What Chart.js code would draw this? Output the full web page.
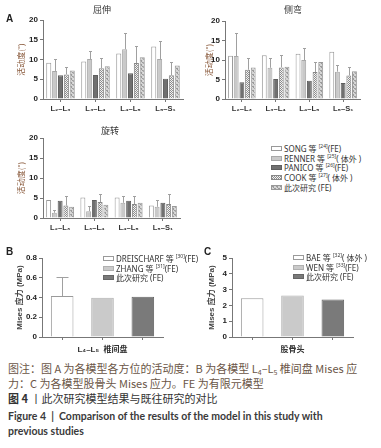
<!DOCTYPE html>
<html>
<head>
<meta charset="utf-8">
<script src="https://cdn.jsdelivr.net/npm/chart.js@4/dist/chart.umd.min.js"></script>
<style>
body{margin:0;background:#fff;width:381px;height:448px;position:relative;overflow:hidden;font-family:"Noto Sans","Noto Sans CJK SC",sans-serif;}
canvas{position:absolute;}
.t{position:absolute;white-space:nowrap;}
.ttl{font-size:9px;color:#333;transform:translate(-50%,-50%);font-family:"Noto Sans CJK SC";}
.pl{font-size:10px;font-weight:bold;color:#222;font-family:"Liberation Sans";}
.lg{position:absolute;font-size:8px;color:#333;line-height:9.7px;font-family:"Noto Sans","Noto Sans CJK SC";}
.lg div{white-space:nowrap;height:9.7px;}
.lg i{display:inline-block;width:9px;height:3px;border:1px solid #999;margin-right:2px;vertical-align:1px;}
.lg sup{font-size:5px;vertical-align:4px;line-height:0;}
.cap{position:absolute;left:8px;white-space:nowrap;font-size:11px;line-height:14px;font-family:"Noto Sans CJK SC";}
.cap sub{font-size:7px;vertical-align:-2px;line-height:0;}
</style>
</head>
<body>
<canvas id="flex" width="190" height="118" style="left:0;top:0"></canvas>
<canvas id="lat" width="190" height="118" style="left:190px;top:0"></canvas>
<canvas id="rot" width="190" height="118" style="left:0;top:120px"></canvas>
<canvas id="disc" width="190" height="118" style="left:0;top:240px"></canvas>
<canvas id="head" width="190" height="118" style="left:190px;top:240px"></canvas>

<div class="t ttl" style="left:102px;top:9px">屈伸</div>
<div class="t ttl" style="left:293px;top:9px">侧弯</div>
<div class="t ttl" style="left:110px;top:130px">旋转</div>
<div class="t pl" style="left:6px;top:13px">A</div>
<div class="t pl" style="left:6px;top:246px">B</div>
<div class="t pl" style="left:204px;top:246px">C</div>

<div class="lg" id="legA" style="left:271px;top:144px"></div>
<div class="lg" id="legB" style="left:103px;top:254px"></div>
<div class="lg" id="legC" style="left:293px;top:253px"></div>

<div class="cap" style="top:361px;color:#6a5546">图注：图 A 为各模型各方位的活动度：B 为各模型 L<sub>4</sub>–L<sub>5</sub> 椎间盘 Mises 应</div>
<div class="cap" style="top:376px;color:#6a5546">力：C 为各模型股骨头 Mises 应力。FE 为有限元模型</div>
<div class="cap" style="top:391px;color:#333"><b>图 4</b> 丨此次研究模型结果与既往研究的对比</div>
<div class="cap" style="top:409px;color:#3a3a3a;font-weight:bold;font-family:Lato,'Noto Sans';font-size:10.5px">Figure 4 &nbsp;|&nbsp; Comparison of the results of the model in this study with</div>
<div class="cap" style="top:424px;color:#3a3a3a;font-weight:bold;font-family:Lato,'Noto Sans';font-size:10.5px">previous studies</div>

<script>
// segments and studies
const segments = ['L₂–L₃', 'L₃–L₄', 'L₄–L₅', 'L₅–S₁'];
const studiesA = ['SONG 等', 'RENNER 等', 'PANICO 等', 'COOK 等', '此次研究'];
const refsA = ['[24]', '[25]', '[26]', '[27]', ''];
const typesA = ['(FE)', '( 体外 )', '(FE)', '( 体外 )', ' (FE)'];

// 屈伸 (flexion-extension), degrees
const flexSong = [9.2, 9.5, 11.5, 13.3];
const flexRenner = [7.1, 10.1, 12.6, 10.1];
const flexRennerSd = [3.0, 2.0, 4.2, 4.6];
const flexPanico = [6.0, 6.1, 6.5, 5.1];
const flexCook = [6.2, 7.8, 9.1, 6.0];
const flexCookSd = [2.0, 2.5, 4.3, 3.3];
const flexThis = [7.2, 8.3, 10.6, 8.5];

// 侧弯 (lateral bending)
const latSong = [11.1, 11.2, 11.6, 12.1];
const latRenner = [11.0, 8.0, 10.0, 7.0];
const latRennerSd = [6.0, 2.6, 3.0, 1.7];
const latPanico = [4.3, 5.1, 4.7, 4.1];
const latCook = [7.5, 8.1, 6.9, 6.0];
const latCookSd = [3.1, 3.3, 2.7, 2.1];
const latThis = [8.1, 8.3, 9.5, 7.1];

// 旋转 (axial rotation)
const rotSong = [4.5, 5.1, 5.1, 3.1];
const rotRenner = [1.3, 1.7, 3.8, 2.8];
const rotRennerSd = [0.7, 1.2, 1.8, 1.6];
const rotPanico = [4.3, 4.5, 4.3, 3.8];
const rotCook = [3.1, 4.0, 3.5, 3.5];
const rotCookSd = [2.3, 2.1, 2.1, 2.6];
const rotThis = [2.8, 3.3, 3.8, 3.0];

// B: L4-L5 disc Mises stress (MPa)
const studiesB = ['DREISCHARF 等', 'ZHANG 等', '此次研究'];
const refsB = ['[30]', '[31]', ''];
const typesB = ['(FE)', '(FE)', ' (FE)'];
const discStress = [0.415, 0.398, 0.408];
const discSd = [0.19, 0, 0];

// C: femoral head Mises stress (MPa)
const studiesC = ['BAE 等', 'WEN 等', '此次研究'];
const refsC = ['[32]', '[33]', ''];
const typesC = ['( 体外 )', '(FE)', ' (FE)'];
const headStress = [2.45, 2.63, 2.38];

function makePattern(draw) {
    const c = document.createElement('canvas');
    c.width = 4; c.height = 4;
    draw(c.getContext('2d'));
    return c;
}
const cookTile = makePattern(g => {
    g.fillStyle = '#f2f2f2'; g.fillRect(0, 0, 4, 4);
    g.fillStyle = '#8c8c8c';
    g.fillRect(0, 0, 1, 1); g.fillRect(2, 0, 1, 1); g.fillRect(1, 1, 1, 1); g.fillRect(3, 1, 1, 1);
    g.fillRect(0, 2, 1, 1); g.fillRect(2, 2, 1, 1); g.fillRect(1, 3, 1, 1); g.fillRect(3, 3, 1, 1);
});
const thisTile = makePattern(g => {
    g.fillStyle = '#d4d4d4'; g.fillRect(0, 0, 4, 4);
    g.fillStyle = '#9a9a9a';
    g.fillRect(0, 0, 2, 1); g.fillRect(2, 2, 2, 1); g.fillRect(1, 1, 1, 1); g.fillRect(3, 3, 1, 1);
});
const tmp = document.createElement('canvas').getContext('2d');
const cookFill = tmp.createPattern(cookTile, 'repeat');
const thisFill = tmp.createPattern(thisTile, 'repeat');

const fillsA = ['#ffffff', '#c9c9c9', '#707070', cookFill, thisFill];
const bordersA = ['#999999', '#a8a8a8', '#5e5e5e', '#888888', '#999999'];
const fillsBC = ['#ffffff', '#cacaca', '#7a7a7a'];
const bordersBC = ['#9a9a9a', '#b0b0b0', '#666666'];

Chart.defaults.font.family = '"Liberation Sans", "Noto Sans CJK SC"';
Chart.defaults.animation = false;

const errorBars = {
    id: 'errorBars',
    afterDatasetsDraw(chart) {
        const ctx = chart.ctx;
        const y = chart.scales.y;
        chart.data.datasets.forEach((ds, i) => {
            if (!ds.sd) return;
            const meta = chart.getDatasetMeta(i);
            meta.data.forEach((bar, j) => {
                const sd = ds.sd[j];
                if (!sd) return;
                const top = Math.round(y.getPixelForValue(ds.data[j] + sd)) + 0.5;
                const x = Math.round(bar.x) + 0.5;
                ctx.save();
                ctx.strokeStyle = '#a0a0a0';
                ctx.lineWidth = 1;
                ctx.beginPath();
                ctx.moveTo(x, bar.y);
                ctx.lineTo(x, top);
                ctx.moveTo(x - ds.cap, top);
                ctx.lineTo(x + ds.cap, top);
                ctx.stroke();
                ctx.restore();
            });
        });
    }
};

const tickFont = { size: 8, weight: 'bold' };

function groupedChart(id, series, sds, opt) {
    const datasets = series.map((vals, k) => ({
        label: studiesA[k],
        data: vals,
        sd: sds[k],
        cap: 1.5,
        backgroundColor: fillsA[k],
        borderColor: bordersA[k],
        borderWidth: 1,
        categoryPercentage: 0.84,
        barPercentage: 0.86
    }));
    return new Chart(document.getElementById(id), {
        type: 'bar',
        data: { labels: segments, datasets: datasets },
        plugins: [errorBars],
        options: {
            responsive: false,
            devicePixelRatio: 1,
            layout: { padding: { top: opt.top, right: opt.right, left: 0, bottom: 0 } },
            plugins: { legend: { display: false }, tooltip: { enabled: false } },
            scales: {
                x: {
                    grid: { drawOnChartArea: false, offset: false, tickLength: 3, color: '#777' },
                    border: { color: '#777' },
                    ticks: { font: { size: 7.5, weight: 'bold' }, color: '#333', padding: 2 },
                    afterFit: a => { a.height = opt.xh; }
                },
                y: {
                    min: 0, max: 20,
                    ticks: { stepSize: 5, font: tickFont, color: '#222', padding: 2 },
                    grid: { drawOnChartArea: false, tickLength: 3, color: '#777' },
                    border: { color: '#777' },
                    title: {
                        display: true, text: '活动度(°)', color: '#8a5a3c',
                        font: { size: 8, family: '"Noto Sans CJK SC"' },
                        padding: { top: opt.tp, bottom: 0 }
                    },
                    afterFit: a => { a.width = opt.yw; }
                }
            }
        }
    });
}

groupedChart('flex', [flexSong, flexRenner, flexPanico, flexCook, flexThis],
    [null, flexRennerSd, null, flexCookSd, null], { top: 20, right: 7, xh: 19, yw: 43, tp: 16 });
groupedChart('lat', [latSong, latRenner, latPanico, latCook, latThis],
    [null, latRennerSd, null, latCookSd, null], { top: 21, right: 20, xh: 19, yw: 35, tp: 14 });
groupedChart('rot', [rotSong, rotRenner, rotPanico, rotCook, rotThis],
    [null, rotRennerSd, null, rotCookSd, null], { top: 18, right: 10, xh: 20, yw: 43, tp: 16 });

function stressChart(id, names, vals, sd, opt) {
    return new Chart(document.getElementById(id), {
        type: 'bar',
        data: {
            labels: names,
            datasets: [{
                data: vals,
                sd: sd,
                cap: 6,
                backgroundColor: fillsBC,
                borderColor: bordersBC,
                borderWidth: 1,
                categoryPercentage: 1,
                barPercentage: 0.56
            }]
        },
        plugins: [errorBars],
        options: {
            responsive: false,
            devicePixelRatio: 1,
            layout: { padding: { top: 18, right: opt.right, left: 0, bottom: 0 } },
            plugins: { legend: { display: false }, tooltip: { enabled: false } },
            scales: {
                x: {
                    grid: { drawOnChartArea: false, offset: false, tickLength: 3, color: '#777' },
                    border: { color: '#777' },
                    ticks: { callback: () => '', padding: 0 },
                    title: {
                        display: true, text: opt.xTitle, color: '#333',
                        font: { size: 8, weight: 'bold', family: '"Liberation Sans", "Noto Sans CJK SC"' },
                        padding: { top: 0, bottom: 3 }
                    },
                    afterFit: a => { a.height = 21; }
                },
                y: {
                    min: 0, max: opt.max,
                    ticks: { stepSize: opt.step, font: tickFont, color: '#222', padding: 2 },
                    grid: { drawOnChartArea: false, tickLength: 3, color: '#777' },
                    border: { color: '#777' },
                    title: {
                        display: true, text: 'Mises 应力 (MPa)', color: '#444',
                        font: { size: 8, weight: 'bold', family: '"Liberation Sans", "Noto Sans CJK SC"' },
                        padding: { top: opt.tp, bottom: 0 }
                    },
                    afterFit: a => { a.width = opt.yw; }
                }
            }
        }
    });
}

stressChart('disc', studiesB, discStress, discSd,
    { max: 0.8, step: 0.2, right: 27, yw: 42, tp: 15, xTitle: 'L₄–L₅  椎间盘' });
stressChart('head', studiesC, headStress, null,
    { max: 5, step: 1, right: 27, yw: 42, tp: 17, xTitle: '股骨头' });

function tileUrl(tile) {
    const c = document.createElement('canvas');
    c.width = 12; c.height = 8;
    const g = c.getContext('2d');
    g.fillStyle = g.createPattern(tile, 'repeat');
    g.fillRect(0, 0, 12, 8);
    return c.toDataURL();
}
const legendFillsA = ['#ffffff', '#c9c9c9', '#707070', 'url(' + tileUrl(cookTile) + ')', 'url(' + tileUrl(thisTile) + ')'];

function buildLegend(id, names, refs, types, fills, borders) {
    const box = document.getElementById(id);
    names.forEach((n, k) => {
        const row = document.createElement('div');
        const sw = document.createElement('i');
        sw.style.background = fills[k];
        sw.style.borderColor = borders[k];
        row.appendChild(sw);
        row.appendChild(document.createTextNode(n + ' '));
        if (refs[k]) {
            const s = document.createElement('sup');
            s.textContent = refs[k];
            row.appendChild(s);
        }
        row.appendChild(document.createTextNode(types[k]));
        box.appendChild(row);
    });
}
buildLegend('legA', studiesA, refsA, typesA, legendFillsA, bordersA);
buildLegend('legB', studiesB, refsB, typesB, fillsBC, bordersBC);
buildLegend('legC', studiesC, refsC, typesC, fillsBC, bordersBC);
</script>
</body>
</html>
